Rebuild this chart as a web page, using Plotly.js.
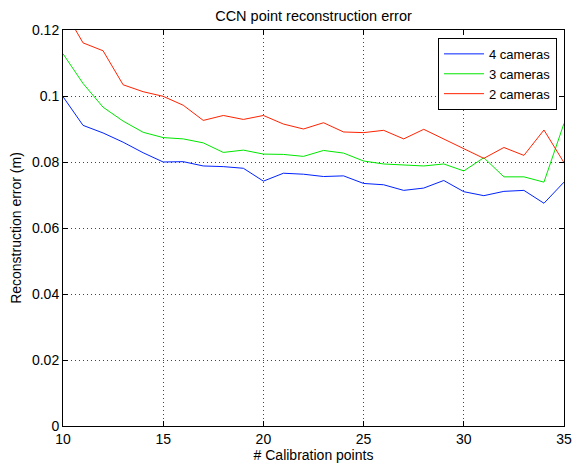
<!DOCTYPE html>
<html>
<head>
<meta charset="utf-8">
<script src="https://cdn.plot.ly/plotly-3.0.1.min.js"></script>
<style>
  html, body { margin: 0; padding: 0; background: #fff; }
  #chart { width: 573px; height: 465px; }
</style>
</head>
<body>
<div id="chart"></div>
<script>
// Data
const calibrationPoints = [10,11,12,13,14,15,16,17,18,19,20,21,22,23,24,25,26,27,28,29,30,31,32,33,34,35];
const cameras4 = [0.0998,0.0911,0.0888,0.0860,0.0828,0.0800,0.0801,0.0788,0.0786,0.0781,0.0742,0.0766,0.0763,0.0756,0.0758,0.0735,0.0731,0.0714,0.0721,0.0744,0.0710,0.0698,0.0711,0.0714,0.0675,0.0739];
const cameras3 = [0.1128,0.1038,0.0966,0.0924,0.0890,0.0874,0.0870,0.0858,0.0829,0.0836,0.0824,0.0823,0.0817,0.0835,0.0827,0.0803,0.0794,0.0790,0.0788,0.0794,0.0773,0.0813,0.0755,0.0755,0.0739,0.0917];
const cameras2 = [0.1266,0.1161,0.1137,0.1034,0.1013,0.0999,0.0972,0.0926,0.0941,0.0929,0.0941,0.0915,0.0900,0.0919,0.0891,0.0889,0.0896,0.0870,0.0899,0.0870,0.0841,0.0811,0.0844,0.0820,0.0897,0.0798];
const seriesNames = ['4 cameras','3 cameras','2 cameras'];
const xTickVals = [10,15,20,25,30,35];
const xTickText = ['10','15','20','25','30','35'];
const yTickVals = [0,0.02,0.04,0.06,0.08,0.1,0.12];
const yTickText = ['0','0.02','0.04','0.06','0.08','0.1','0.12'];

const FONT = 'Liberation Sans, Arial, Helvetica, sans-serif';
const colors = ['#0022ff', '#00e600', '#ff2200'];
const seriesValues = [cameras4, cameras3, cameras2];

const traces = seriesValues.map((vals, i) => ({
  x: calibrationPoints,
  y: vals,
  type: 'scatter',
  mode: 'lines',
  name: seriesNames[i],
  line: { color: colors[i], width: 1 }
}));

const axisCommon = {
  showline: true,
  linecolor: '#000',
  linewidth: 1,
  mirror: 'ticks',
  ticks: 'inside',
  ticklen: 5,
  tickwidth: 1,
  tickcolor: '#000',
  showgrid: true,
  gridcolor: '#444',
  gridwidth: 1,
  griddash: '1px,3px',
  zeroline: false,
  tickfont: { family: FONT, size: 14, color: '#000' }
};

const layout = {
  width: 573,
  height: 465,
  margin: { l: 63, r: 9, t: 30, b: 39 },
  paper_bgcolor: '#fff',
  plot_bgcolor: '#fff',
  font: { family: FONT, size: 14, color: '#000' },
  title: {
    text: 'CCN point reconstruction error',
    font: { family: FONT, size: 14.5, color: '#000' },
    x: 0.5, xref: 'paper', xanchor: 'center',
    y: 1 - 16/465, yref: 'container', yanchor: 'middle'
  },
  xaxis: Object.assign({}, axisCommon, {
    range: [10, 35],
    tickmode: 'array',
    tickvals: xTickVals,
    ticktext: xTickText,
    title: { text: '# Calibration points', font: { family: FONT, size: 14, color: '#000' }, standoff: 4 }
  }),
  yaxis: Object.assign({}, axisCommon, {
    range: [0, 0.12],
    tickmode: 'array',
    tickvals: yTickVals,
    ticktext: yTickText,
    title: { text: 'Reconstruction error (m)', font: { family: FONT, size: 14, color: '#000' }, standoff: 7 }
  }),
  legend: {
    x: 0.986, xanchor: 'right',
    y: 0.98, yanchor: 'top',
    bgcolor: '#fff',
    bordercolor: '#000',
    borderwidth: 1,
    itemwidth: 40,
    font: { family: FONT, size: 13, color: '#000' },
    tracegroupgap: 0
  },
  showlegend: true
};

Plotly.newPlot('chart', traces, layout, { displayModeBar: false, staticPlot: true });
</script>
</body>
</html>
